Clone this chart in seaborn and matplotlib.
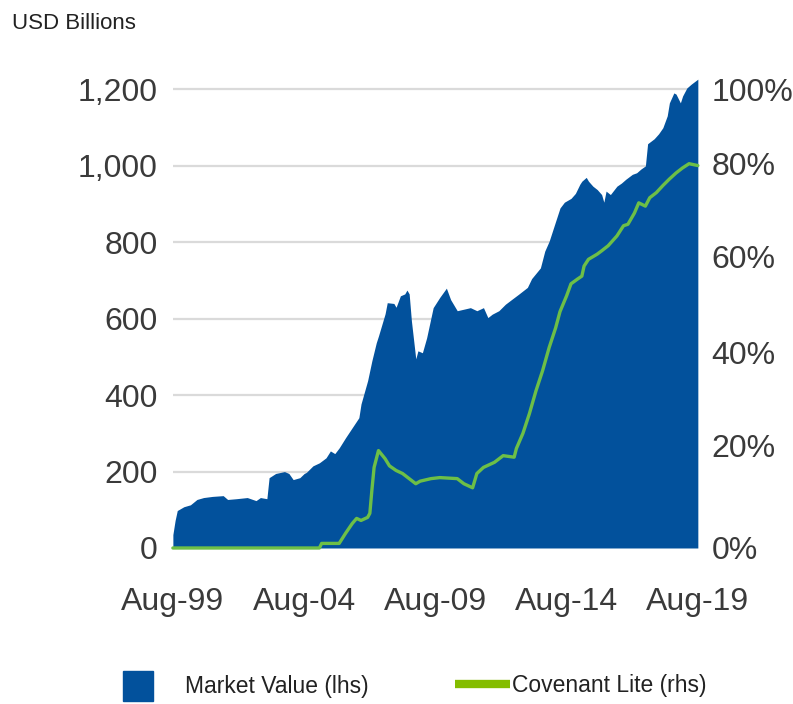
import matplotlib
matplotlib.use('Agg')
import matplotlib.pyplot as plt
import matplotlib.dates as mdates
from matplotlib.patches import Patch
from matplotlib.lines import Line2D
from matplotlib.ticker import FuncFormatter
import numpy as np
import pandas as pd
import seaborn as sns

# market value of the loan index, USD billions
mv_dates = ['1999-08', '1999-09', '1999-10', '2000-01', '2000-04', '2000-07', '2000-10', '2001-02',
            '2001-07', '2001-09', '2002-01', '2002-06', '2002-10', '2002-12', '2003-03', '2003-04',
            '2003-07', '2003-11', '2004-01', '2004-03', '2004-06', '2004-08', '2004-09', '2004-12',
            '2005-03', '2005-06', '2005-08', '2005-10', '2005-12', '2006-03', '2006-06', '2006-09',
            '2006-10', '2007-01', '2007-03', '2007-05', '2007-06', '2007-09', '2007-10', '2008-01',
            '2008-02', '2008-04', '2008-06', '2008-07', '2008-08', '2008-09', '2008-11', '2008-12',
            '2009-02', '2009-04', '2009-06', '2009-07', '2009-10', '2010-01', '2010-03', '2010-06',
            '2010-09', '2010-12', '2011-03', '2011-06', '2011-08', '2011-10', '2012-01', '2012-04',
            '2012-07', '2012-10', '2013-02', '2013-04', '2013-08', '2013-10', '2013-12', '2014-03',
            '2014-05', '2014-07', '2014-10', '2014-12', '2015-02', '2015-03', '2015-05', '2015-06',
            '2015-08', '2015-10', '2015-12', '2016-01', '2016-02', '2016-04', '2016-07', '2016-09',
            '2016-11', '2017-02', '2017-04', '2017-06', '2017-08', '2017-09', '2017-12', '2018-02',
            '2018-04', '2018-06', '2018-07', '2018-09', '2018-10', '2018-12', '2019-01', '2019-03',
            '2019-05', '2019-08']
mv_values = [35, 72, 98, 108, 113, 127, 132, 135,
             137, 127, 129, 132, 124, 132, 129, 184,
             195, 200, 195, 179, 184, 195, 198, 215,
             223, 236, 254, 247, 262, 289, 315, 341,
             377, 438, 490, 537, 555, 613, 642, 640,
             630, 660, 665, 675, 665, 595, 495, 516,
             511, 550, 603, 629, 656, 680, 650, 621,
             625, 629, 621, 629, 603, 612, 621, 638,
             651, 664, 682, 705, 733, 777, 803, 855,
             890, 905, 915, 928, 952, 960, 970, 960,
             947, 938, 925, 905, 934, 925, 947, 955,
             965, 978, 982, 992, 1000, 1058, 1071, 1084,
             1100, 1131, 1165, 1191, 1188, 1165, 1183, 1204,
             1214, 1227]

# covenant lite share, %
cl_dates = ['1999-08', '2005-03', '2005-04', '2005-12', '2006-03', '2006-06', '2006-08', '2006-10',
            '2007-01', '2007-02', '2007-03', '2007-04', '2007-06', '2007-09', '2007-11', '2008-02',
            '2008-05', '2008-08', '2008-11', '2009-01', '2009-06', '2009-10', '2010-06', '2010-09',
            '2011-01', '2011-03', '2011-06', '2011-11', '2012-03', '2012-08', '2012-09', '2012-12',
            '2013-03', '2013-06', '2013-09', '2013-12', '2014-03', '2014-05', '2014-08', '2014-10',
            '2015-01', '2015-03', '2015-04', '2015-06', '2015-10', '2015-12', '2016-03', '2016-07',
            '2016-10', '2016-12', '2017-03', '2017-05', '2017-08', '2017-10', '2018-01', '2018-04',
            '2018-07', '2018-10', '2019-01', '2019-04', '2019-08']
cl_values = [0, 0, 0.9, 0.9, 2.9, 4.8, 5.8, 5.4,
             6.0, 6.8, 11.3, 15.8, 19.1, 17.5, 16.1, 15.2,
             14.6, 13.6, 12.6, 13.1, 13.6, 13.8, 13.6, 12.6,
             11.8, 14.6, 15.8, 16.8, 18.1, 17.8, 19.5, 22.7,
             26.9, 31.8, 36.1, 41.0, 45.1, 48.5, 51.8, 54.3,
             55.3, 55.9, 58.0, 59.4, 60.5, 61.2, 62.3, 64.4,
             66.6, 66.9, 69.3, 71.5, 70.8, 72.6, 73.7, 75.2,
             76.6, 77.9, 79.0, 79.9, 79.5]

tick_dates = ['1999-08', '2004-08', '2009-08', '2014-08', '2019-08']

# the right-hand axis of the source is not evenly spaced: % -> height in left-axis units
rhs_pct = [-20, 0, 20, 40, 60, 80, 100, 120]
rhs_height = [-267, 0, 267, 512, 763, 1007, 1200, 1393]

BLUE = '#02519c'
GREEN = '#6dbf47'
TEXT = '#3a3a3a'

mv = pd.DataFrame({'date': pd.to_datetime(mv_dates), 'value': mv_values})
cl = pd.DataFrame({'date': pd.to_datetime(cl_dates), 'pct': cl_values})

sns.set_theme(style='white')
plt.rcParams['font.family'] = ['Liberation Sans', 'DejaVu Sans']

fig = plt.figure(figsize=(7.93, 7.04), dpi=100)
ax = fig.add_axes([0.218, 0.2216, 0.662, 0.673])

ax.fill_between(mv['date'], mv['value'], color=BLUE, lw=0, zorder=2)
ax.axhline(0, color='#cfcfcf', lw=1.5, zorder=1)
ax.set_ylim(0, 1240)
ax.set_yticks(range(0, 1201, 200))
ax.yaxis.set_major_formatter(FuncFormatter(lambda v, p: f'{int(v):,}'))
ax.grid(axis='y', color='#dadada', lw=1.6)
ax.set_axisbelow(True)
ax.set_xlim(mv['date'].iloc[0], mv['date'].iloc[-1])
ax.set_xticks(pd.to_datetime(tick_dates))
ax.xaxis.set_major_formatter(mdates.DateFormatter('%b-%y'))
ax.tick_params(axis='y', length=0, labelsize=23, labelcolor=TEXT, pad=11)
ax.tick_params(axis='x', length=0, labelsize=23, labelcolor=TEXT, pad=28)
for s in ax.spines.values():
    s.set_visible(False)
ax.set_xlabel('')
ax.set_ylabel('')

ax2 = ax.twinx()
ax2.set_yscale('function', functions=(lambda p: np.interp(p, rhs_pct, rhs_height),
                                      lambda h: np.interp(h, rhs_height, rhs_pct)))
sns.lineplot(data=cl, x='date', y='pct', ax=ax2, color=GREEN, lw=2.4)
ax2.lines[0].set_clip_on(False)
ax2.set_ylim(0, np.interp(1240, rhs_height, rhs_pct))
ax2.set_yticks(range(0, 101, 20))
ax2.yaxis.set_major_formatter(FuncFormatter(lambda v, p: f'{int(round(v))}%'))
ax2.yaxis.set_minor_locator(matplotlib.ticker.NullLocator())
ax2.tick_params(axis='y', length=0, labelsize=23, labelcolor=TEXT, pad=10)
ax2.set_xlabel('')
ax2.set_ylabel('')
ax2.grid(False)
for s in ax2.spines.values():
    s.set_visible(False)

fig.text(0.015, 0.966, 'USD Billions', fontsize=16, color='#222222', va='center')

legend_font = {'size': 16.5}
fig.legend(handles=[Patch(color=BLUE, label='Market Value (lhs)')],
           loc='center left', bbox_to_anchor=(123 / 793, 0.026), frameon=False,
           handlelength=1.3, handleheight=1.65, handletextpad=1.4,
           borderpad=0, borderaxespad=0, prop=legend_font, labelcolor='#222222')
fig.legend(handles=[Line2D([], [], color='#84bd00', lw=6, solid_capstyle='butt',
                           label='Covenant Lite (rhs)')],
           loc='center left', bbox_to_anchor=(455 / 793, 0.026), frameon=False,
           handlelength=2.4, handletextpad=0.1,
           borderpad=0, borderaxespad=0, prop=legend_font, labelcolor='#222222')

fig.savefig('out.png', dpi=100)
